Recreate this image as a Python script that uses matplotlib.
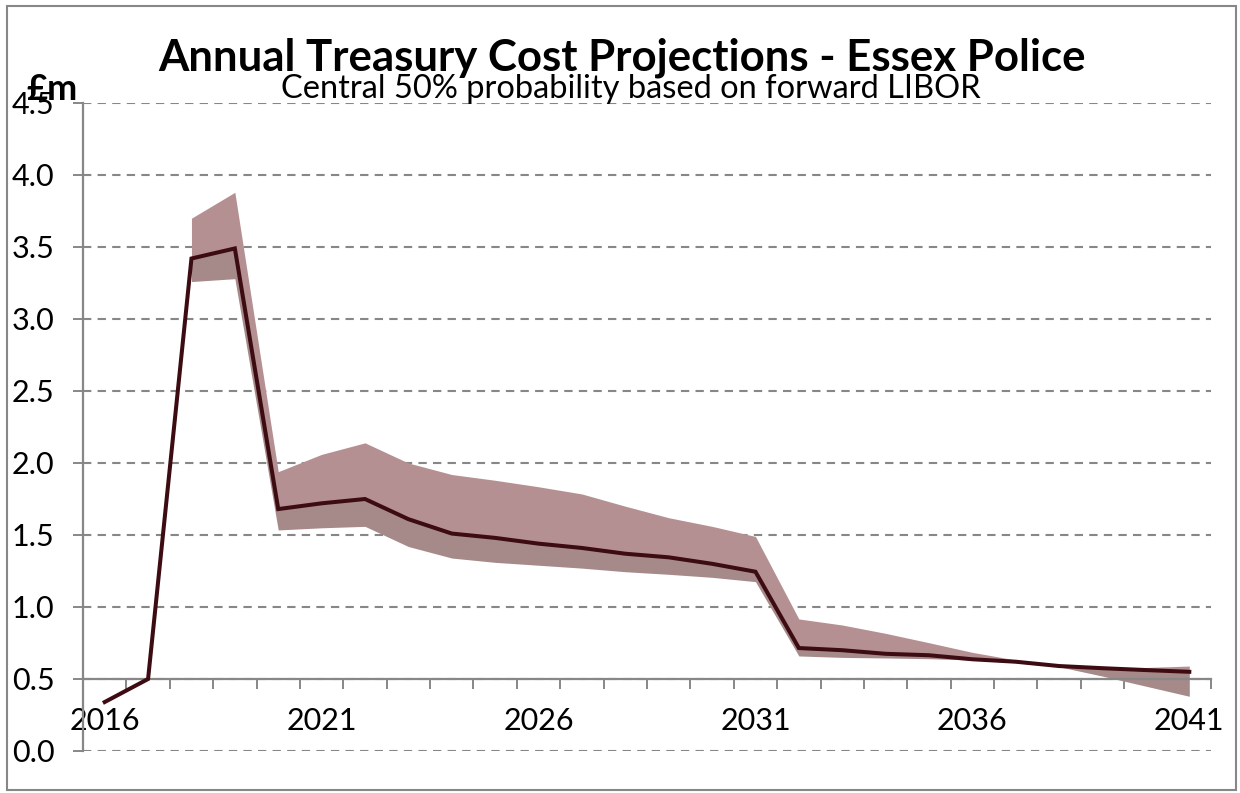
import numpy as np
import matplotlib
matplotlib.use("Agg")
import matplotlib.pyplot as plt
from matplotlib.patches import Rectangle
from matplotlib.ticker import FixedLocator, FixedFormatter

plt.rcParams['font.family'] = ['Lato', 'DejaVu Sans']

# data (£m)
years = list(range(2016, 2042))
central = [0.34, 0.50, 3.42, 3.49, 1.68, 1.72, 1.75, 1.61, 1.51, 1.48, 1.44, 1.41, 1.37,
           1.345, 1.30, 1.245, 0.715, 0.70, 0.675, 0.665, 0.637, 0.62, 0.59, 0.575, 0.562, 0.55]
# band edges start in 2018
band_top = [np.nan, np.nan, 3.70, 3.88, 1.94, 2.06, 2.14, 2.00, 1.92, 1.88, 1.835, 1.785, 1.70,
            1.62, 1.56, 1.49, 0.917, 0.875, 0.817, 0.752, 0.685, 0.632, 0.595, 0.58, 0.58, 0.59]
band_bottom = [np.nan, np.nan, 3.26, 3.28, 1.535, 1.55, 1.56, 1.42, 1.34, 1.31, 1.29, 1.27, 1.245,
               1.227, 1.206, 1.176, 0.66, 0.65, 0.646, 0.641, 0.632, 0.613, 0.585, 0.52, 0.45, 0.38]
label_years = [2016, 2021, 2026, 2031, 2036, 2041]
y_ticks = [0.0, 0.5, 1.0, 1.5, 2.0, 2.5, 3.0, 3.5, 4.0, 4.5]

title = 'Annual Treasury Cost Projections - Essex Police'
subtitle = 'Central 50% probability based on forward LIBOR'

W, H = 1240, 793
fig = plt.figure(figsize=(W / 100, H / 100), dpi=100)
ax = fig.add_axes([83 / W, 1 - 751 / H, (1211 - 83) / W, (751 - 103) / H])

grey = '#878787'
light = '#b59093'
dark = '#a68a8a'
line_col = '#3d0c12'

x = np.array(years, dtype=float)
c = np.array(central)
top = np.array(band_top)
bot = np.array(band_bottom)

ax.fill_between(x, c, top, color=light, lw=0, zorder=2)
ax.fill_between(x, bot, c, color=dark, lw=0, zorder=2)
ax.plot(x, c, color=line_col, lw=2.9, zorder=4, solid_joinstyle='miter')

ax.set_xlim(years[0] - 0.5, years[-1] + 0.5)
ax.set_ylim(0, 4.5)

# axes styling, Excel look
for s in ['top', 'right']:
    ax.spines[s].set_visible(False)
ax.spines['left'].set_color(grey)
ax.spines['left'].set_linewidth(1.6)
ax.spines['bottom'].set_position(('data', 0.5))
ax.spines['bottom'].set_color(grey)
ax.spines['bottom'].set_linewidth(1.6)
ax.spines['bottom'].set_zorder(3)

ax.set_yticks(y_ticks)
ax.set_yticklabels(['%.1f' % v for v in y_ticks])
ax.tick_params(axis='y', direction='out', length=7.5, width=1.4, color=grey,
               pad=13, labelsize=22)

ax.xaxis.set_major_locator(FixedLocator(label_years))
ax.xaxis.set_major_formatter(FixedFormatter([str(y) for y in label_years]))
ax.xaxis.set_minor_locator(FixedLocator(np.arange(years[0] - 0.5, years[-1] + 1, 1.0)))
ax.tick_params(axis='x', which='major', length=0, pad=20, labelsize=22)
ax.tick_params(axis='x', which='minor', direction='out', length=7.5, width=1.4, color=grey)

ax.grid(axis='y', color=grey, lw=1.5, linestyle=(0, (4, 3)), zorder=1)
ax.set_axisbelow(True)

fig.text(622 / W, 1 - 71 / H, title, ha='center', va='baseline',
         fontsize=31.5, fontweight='bold')
fig.text(631 / W, 1 - 98 / H, subtitle, ha='center', va='baseline', fontsize=23.5)
fig.text(26 / W, 1 - 100 / H, '£m', ha='left', va='baseline', fontsize=26, fontweight='bold')

# outer chart border
fig.patches.append(Rectangle((7 / W, 3 / H), 1229 / W, 784 / H, transform=fig.transFigure,
                             fill=False, edgecolor=grey, lw=1.5))

fig.savefig('out.png', dpi=100)
